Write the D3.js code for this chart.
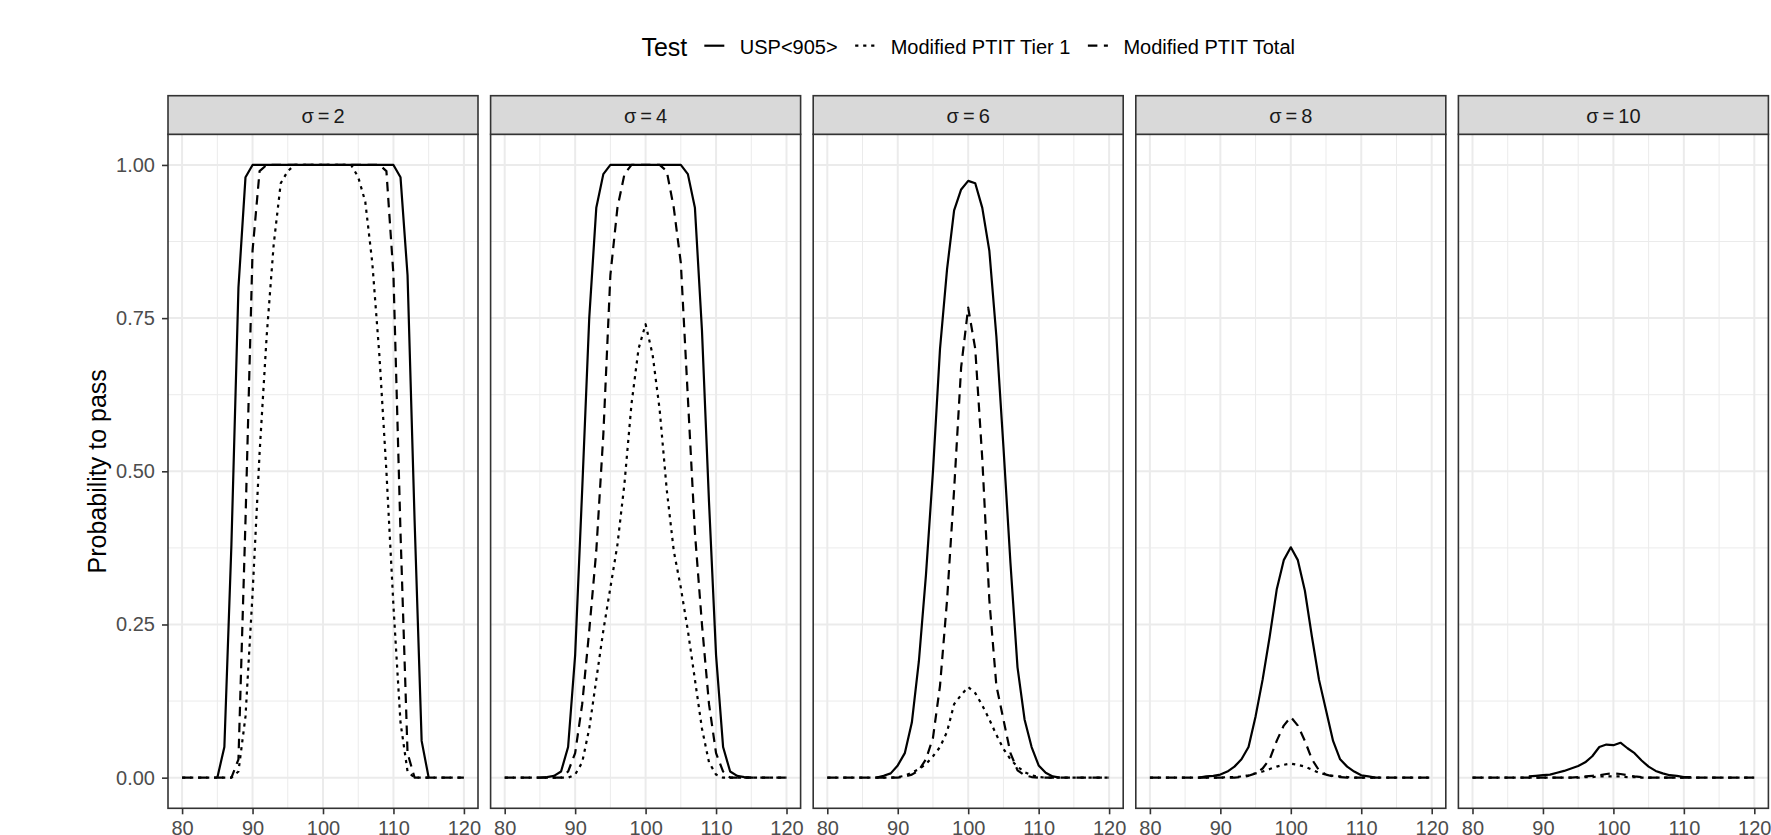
<!DOCTYPE html>
<html lang="en">
<head>
<meta charset="utf-8">
<title>Probability to pass</title>
<script src="https://cdn.jsdelivr.net/npm/d3@7"></script>
<style>
  body { margin: 0; background: #fff; }
  svg { display: block; font-family: "Liberation Sans", Arial, sans-serif; }
</style>
</head>
<body>
<script>
// mean content (x) shared by every curve
var meanX = [80,81,82,83,84,85,86,87,88,89,90,91,92,93,94,95,96,97,98,99,100,
             101,102,103,104,105,106,107,108,109,110,111,112,113,114,115,116,117,118,119,120];

var sigmas = [2, 4, 6, 8, 10];
var testNames = ["USP<905>", "Modified PTIT Tier 1", "Modified PTIT Total"];
var xTicks = [80, 90, 100, 110, 120];
var yTicks = [0, 0.25, 0.5, 0.75, 1];

// probability to pass (null = not drawn)
var usp2 = [null,null,null,null,null,0,0.05,0.38,0.80,0.98,1,1,1,1,1,1,1,1,1,1,1,
            1,1,1,1,1,1,1,1,1,1,0.98,0.82,0.42,0.06,0,null,null,null,null,null];
var tier2 = [0,0,0,0,0,0,0,0,0.01,0.10,0.30,0.53,0.72,0.87,0.97,0.99,1,1,1,1,1,
             1,1,1,1,0.98,0.94,0.84,0.69,0.50,0.28,0.09,0.01,0,0,0,0,0,0,0,0];
var total2 = [0,0,0,0,0,0,0,0,0.03,0.42,0.86,0.99,1,1,1,1,1,1,1,1,1,
              1,1,1,1,1,1,1,1,0.99,0.82,0.40,0.04,0,0,0,0,0,0,0,0];

var usp4 = [null,null,null,null,null,0,0.001,0.003,0.01,0.05,0.2,0.47,0.75,0.93,0.985,1,1,1,1,1,1,
            1,1,1,1,1,0.985,0.93,0.73,0.45,0.2,0.05,0.01,0.003,0.001,0,null,null,null,null,null];
var tier4 = [0,0,0,0,0,0,0,0,0,0,0.005,0.025,0.08,0.16,0.24,0.31,0.38,0.48,0.61,0.70,0.74,
             0.69,0.60,0.47,0.37,0.31,0.24,0.16,0.08,0.025,0.005,0,0,0,0,0,0,0,0,0,0];
var total4 = [0,0,0,0,0,0,0,0,0,0.01,0.04,0.12,0.24,0.37,0.56,0.82,0.93,0.985,1,1,1,
              1,1,0.99,0.93,0.84,0.62,0.40,0.25,0.12,0.04,0.01,0,0,0,0,0,0,0,0,0];

var usp6 = [null,null,null,null,null,null,null,0,0.003,0.007,0.02,0.04,0.09,0.19,0.33,0.5,0.7,0.83,0.926,0.96,0.974,
            0.97,0.93,0.86,0.72,0.54,0.35,0.18,0.095,0.05,0.02,0.008,0.002,0,null,null,null,null,null,null,null];
var tier6 = [0,0,0,0,0,0,0,0,0,0,0.001,0.003,0.008,0.014,0.022,0.035,0.05,0.075,0.12,0.135,0.148,
             0.138,0.118,0.095,0.07,0.047,0.03,0.018,0.009,0.004,0.001,0,0,0,0,0,0,0,0,0,0];
var total6 = [0,0,0,0,0,0,0,0,0,0,0,0.002,0.005,0.012,0.03,0.065,0.15,0.29,0.47,0.67,0.767,
              0.70,0.52,0.29,0.15,0.095,0.04,0.012,0.004,0.001,0,0,0,0,0,0,0,0,0,0,0];

var usp8 = [null,null,null,null,null,null,null,0,0.002,0.003,0.005,0.01,0.018,0.03,0.05,0.1,0.16,0.23,0.307,0.355,0.376,
            0.355,0.305,0.23,0.16,0.11,0.06,0.03,0.018,0.01,0.004,0.002,0,null,null,null,null,null,null,null,null];
var tier8 = [0,0,0,0,0,0,0,0,0,0,0,0.001,0.001,0.002,0.004,0.007,0.01,0.014,0.018,0.021,0.023,
             0.021,0.018,0.013,0.008,0.005,0.003,0.002,0.001,0,0,0,0,0,0,0,0,0,0,0,0];
var total8 = [0,0,0,0,0,0,0,0,0,0,0,0,0,0.001,0.003,0.007,0.015,0.03,0.06,0.085,0.099,
              0.085,0.06,0.03,0.012,0.005,0.002,0.001,0,0,0,0,0,0,0,0,0,0,0,0,0];

var usp10 = [null,null,null,null,null,null,null,null,0.002,0.003,0.004,0.005,0.008,0.011,0.015,0.019,0.025,0.035,0.05,0.054,0.053,
             0.057,0.048,0.04,0.028,0.018,0.011,0.007,0.004,0.003,0.001,0.001,null,null,null,null,null,null,null,null,null];
var tier10 = [0,0,0,0,0,0,0,0,0,0,0,0,0,0,0,0,0.001,0.001,0.002,0.002,0.002,
              0.002,0.001,0.001,0,0,0,0,0,0,0,0,0,0,0,0,0,0,0,0,0];
var total10 = [0,0,0,0,0,0,0,0,0,0,0,0,0,0,0,0.001,0.002,0.003,0.004,0.006,0.007,
               0.006,0.004,0.002,0.001,0,0,0,0,0,0,0,0,0,0,0,0,0,0,0,0];

var uspAll = [usp2, usp4, usp6, usp8, usp10];
var tierAll = [tier2, tier4, tier6, tier8, tier10];
var totalAll = [total2, total4, total6, total8, total10];

// layout
var w = 1771, h = 835;
var panelX0 = 168, panelStep = 322.6, panelW = 310;
var panelTop = 134.3, panelBottom = 808.3, stripTop = 95.7;
var lw = 2.2;
var dashes = [null, "3.2,4.8", "9.5,6.5"];

var svg = d3.select("body").append("svg")
    .attr("width", w)
    .attr("height", h);

var x = d3.scaleLinear().domain([78, 122]).range([0, panelW]);
var y = d3.scaleLinear().domain([-0.05, 1.05]).range([panelBottom, panelTop]);

var line = d3.line()
    .defined(function(d) { return d.v !== null; })
    .x(function(d) { return x(d.x); })
    .y(function(d) { return y(d.v); });

sigmas.forEach(function(s, i) {
    var g = svg.append("g").attr("transform", "translate(" + (panelX0 + i * panelStep) + ",0)");

    g.append("rect")
        .attr("x", 0).attr("y", panelTop)
        .attr("width", panelW).attr("height", panelBottom - panelTop)
        .attr("fill", "#fff");

    // minor grid
    g.selectAll(".vminor").data([85, 95, 105, 115]).enter().append("line")
        .attr("x1", function(d) { return x(d); }).attr("x2", function(d) { return x(d); })
        .attr("y1", panelTop).attr("y2", panelBottom)
        .attr("stroke", "#ebebeb").attr("stroke-width", 1);
    g.selectAll(".hminor").data([0.125, 0.375, 0.625, 0.875]).enter().append("line")
        .attr("x1", 0).attr("x2", panelW)
        .attr("y1", function(d) { return y(d); }).attr("y2", function(d) { return y(d); })
        .attr("stroke", "#ebebeb").attr("stroke-width", 1);
    // major grid
    g.selectAll(".vmajor").data(xTicks).enter().append("line")
        .attr("x1", function(d) { return x(d); }).attr("x2", function(d) { return x(d); })
        .attr("y1", panelTop).attr("y2", panelBottom)
        .attr("stroke", "#ebebeb").attr("stroke-width", 2);
    g.selectAll(".hmajor").data(yTicks).enter().append("line")
        .attr("x1", 0).attr("x2", panelW)
        .attr("y1", function(d) { return y(d); }).attr("y2", function(d) { return y(d); })
        .attr("stroke", "#ebebeb").attr("stroke-width", 2);

    var series = [uspAll[i], tierAll[i], totalAll[i]];
    series.forEach(function(vals, k) {
        var pts = meanX.map(function(mx, j) { return { x: mx, v: vals[j] }; });
        g.append("path")
            .datum(pts)
            .attr("d", line)
            .attr("fill", "none")
            .attr("stroke", "#000")
            .attr("stroke-width", lw)
            .attr("stroke-linejoin", "round")
            .attr("stroke-dasharray", dashes[k]);
    });

    // panel border
    g.append("rect")
        .attr("x", 0).attr("y", panelTop)
        .attr("width", panelW).attr("height", panelBottom - panelTop)
        .attr("fill", "none").attr("stroke", "#333").attr("stroke-width", 1.6);

    // strip
    g.append("rect")
        .attr("x", 0).attr("y", stripTop)
        .attr("width", panelW).attr("height", panelTop - stripTop)
        .attr("fill", "#d9d9d9").attr("stroke", "#333").attr("stroke-width", 1.6);
    g.append("text")
        .attr("x", panelW / 2).attr("y", 122.5)
        .attr("text-anchor", "middle")
        .attr("font-size", 20)
        .attr("fill", "#1a1a1a")
        .text("\u03c3\u2009=\u2009" + s);

    // x axis
    var xa = g.append("g")
        .attr("transform", "translate(0," + panelBottom + ")")
        .call(d3.axisBottom(x).tickValues(xTicks).tickSize(6).tickPadding(7));
    xa.select(".domain").remove();
    xa.selectAll("line").attr("stroke", "#333").attr("stroke-width", 1.6);
    xa.selectAll("text").attr("font-size", 20).attr("fill", "#4d4d4d")
        .attr("font-family", "Liberation Sans, Arial, sans-serif");

    if (i === 0) {
        var ya = g.append("g")
            .call(d3.axisLeft(y).tickValues(yTicks).tickFormat(d3.format(".2f")).tickSize(6).tickPadding(7));
        ya.select(".domain").remove();
        ya.selectAll("line").attr("stroke", "#333").attr("stroke-width", 1.6);
        ya.selectAll("text").attr("font-size", 20).attr("fill", "#4d4d4d")
            .attr("font-family", "Liberation Sans, Arial, sans-serif");
    }
});

// y axis title
svg.append("text")
    .attr("transform", "translate(106," + ((panelTop + panelBottom) / 2) + ") rotate(-90)")
    .attr("text-anchor", "middle")
    .attr("font-size", 25)
    .attr("fill", "#000")
    .text("Probability to pass");

// legend on top, centred over the panels
var legend = svg.append("g");
var lx = 0;
var title = legend.append("text")
    .attr("x", 0).attr("y", 55.7)
    .attr("font-size", 25)
    .text("Test");
lx += title.node().getComputedTextLength() + 17;
testNames.forEach(function(name, k) {
    legend.append("line")
        .attr("x1", lx).attr("x2", lx + 20)
        .attr("y1", 45.7).attr("y2", 45.7)
        .attr("stroke", "#000").attr("stroke-width", lw)
        .attr("stroke-dasharray", dashes[k]);
    lx += 20 + 15.5;
    var t = legend.append("text")
        .attr("x", lx).attr("y", 53.5)
        .attr("font-size", 20)
        .text(name);
    lx += t.node().getComputedTextLength();
    if (k < testNames.length - 1) lx += 17.5;
});
var centre = panelX0 + (4 * panelStep + panelW) / 2;
legend.attr("transform", "translate(" + (centre - lx / 2) + ",0)");
</script>
</body>
</html>
